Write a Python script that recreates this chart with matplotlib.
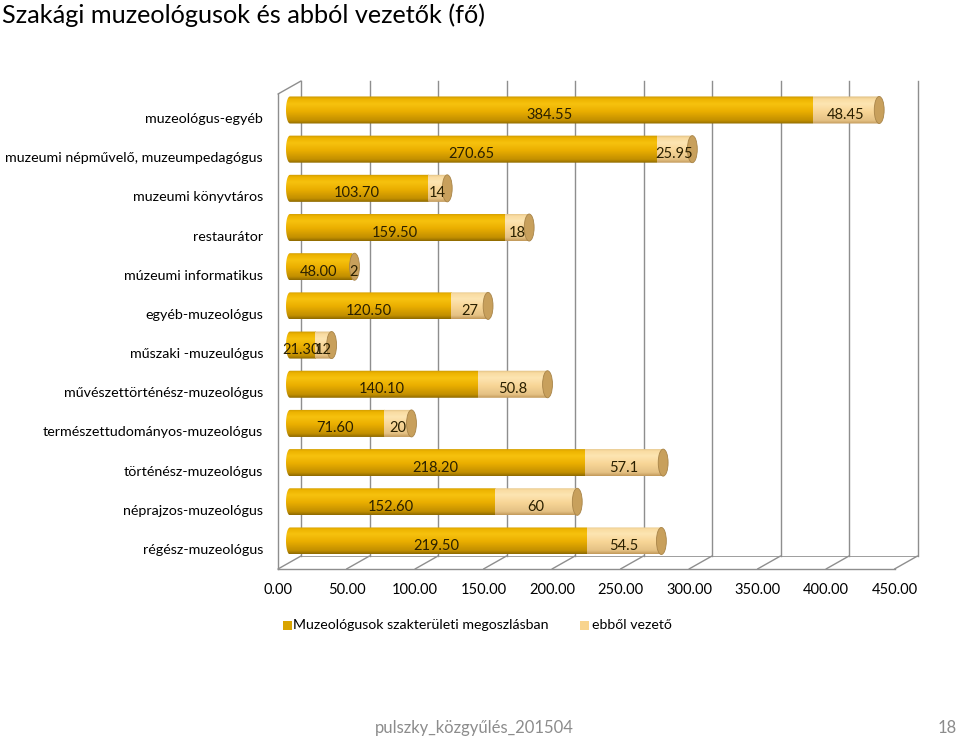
import matplotlib
matplotlib.use("Agg")
import matplotlib.pyplot as plt
from matplotlib.path import Path
from matplotlib.patches import PathPatch, Ellipse, ConnectionPatch, Rectangle
from matplotlib.colors import LinearSegmentedColormap
import matplotlib.transforms as mtransforms
import numpy as np

plt.rcParams['font.family'] = ['Lato', 'DejaVu Sans']

# data, top row first
categories = ["muzeológus-egyéb", "muzeumi népművelő, muzeumpedagógus",
              "muzeumi könyvtáros", "restaurátor", "múzeumi informatikus",
              "egyéb-muzeológus", "műszaki -muzeulógus",
              "művészettörténész-muzeológus", "természettudományos-muzeológus",
              "történész-muzeológus", "néprajzos-muzeológus", "régész-muzeológus"]
muzeologus = [384.55, 270.65, 103.70, 159.50, 48.00, 120.50, 21.30,
              140.10, 71.60, 218.20, 152.60, 219.50]
vezeto = [48.45, 25.95, 14, 18, 2, 27, 12, 50.8, 20, 57.1, 60, 54.5]
vezeto_labels = ["48.45", "25.95", "14", "18", "2", "27", "12",
                 "50.8", "20", "57.1", "60", "54.5"]
xticks = np.arange(0, 451, 50)
series_names = ["Muzeológusok szakterületi megoszlásban", "ebből vezető"]

title = "Szakági muzeológusok és abból vezetők (fő)"
footer = "pulszky_közgyűlés_201504"
page = "18"

gold_stops = [(0.0, "#8f6a00"), (0.12, "#c28f00"), (0.45, "#eaae00"),
              (0.72, "#f7c20e"), (0.9, "#edb300"), (1.0, "#c99700")]
light_stops = [(0.0, "#c29a5a"), (0.12, "#e4c184"), (0.45, "#f8d697"),
               (0.72, "#fde5b2"), (0.9, "#f9dca2"), (1.0, "#dfbd80")]
gold_cmap = LinearSegmentedColormap.from_list("gold", gold_stops)
light_cmap = LinearSegmentedColormap.from_list("light", light_stops)
cap_color = "#c8a05c"
grid_color = "#8e8e8e"

fig = plt.figure(figsize=(9.6, 7.4), dpi=100)
ax = fig.add_axes([286 / 960, 175 / 740, 616.5 / 960, 475 / 740])
ax.set_xlim(0, 450)
ax.set_ylim(-0.613, 11.51)
ax.axis("off")

n = len(categories)
ypos = np.arange(n)[::-1]
bar_h = 0.69
cap_a = 3.6  # half width of the end ellipse in data units


def shifted(dx, dy):
    # dx, dy in pixels (dy positive = down)
    return ax.transData + mtransforms.ScaledTranslation(dx / 100, -dy / 100, fig.dpi_scale_trans)


front = shifted(-8, 4)
back = shifted(15, -9)
y0, y1 = ax.get_ylim()

# back wall gridlines
for xv in xticks:
    ax.plot([xv, xv], [y0, y1], color=grid_color, lw=1.0, transform=back,
            zorder=1, clip_on=False)

# floor
ax.plot([0, 450], [y0, y0], color=grid_color, lw=1.0, transform=front, zorder=1, clip_on=False)
ax.plot([0, 450], [y0, y0], color=grid_color, lw=0.6, transform=back, zorder=1, clip_on=False)
for xv in xticks:
    cp = ConnectionPatch(xyA=(xv, y0), coordsA=front, xyB=(xv, y0), coordsB=back,
                         color=grid_color, lw=1.0, zorder=1)
    cp.set_clip_on(False)
    ax.add_artist(cp)

# left wall
ax.plot([0, 0], [y0, y1], color=grid_color, lw=1.0, transform=front, zorder=1, clip_on=False)
cp = ConnectionPatch(xyA=(0, y1), coordsA=front, xyB=(0, y1), coordsB=back,
                     color=grid_color, lw=1.0, zorder=1)
cp.set_clip_on(False)
ax.add_artist(cp)


def grad_img(cmap):
    t = np.linspace(0, 1, 64)
    rgb = cmap(t)[:, :3]
    return np.repeat(rgb[:, None, :], 2, axis=1)


gold_img = grad_img(gold_cmap)
light_img = grad_img(light_cmap)
lbl = shifted(0, 5)
round_a = cap_a * 0.8

for y, cat, m, v, vl in zip(ypos, categories, muzeologus, vezeto, vezeto_labels):
    total = m + v
    yb, yt = y - bar_h / 2, y + bar_h / 2
    # rounded left end, flat body up to the end cap
    th = np.linspace(np.pi / 2, 3 * np.pi / 2, 20)
    verts = [(round_a + round_a * np.cos(a), y + bar_h / 2 * np.sin(a)) for a in th]
    verts += [(total, yb), (total, yt), (round_a, yt)]
    codes = [Path.MOVETO] + [Path.LINETO] * (len(verts) - 1)
    clip = PathPatch(Path(verts, codes), facecolor="none", edgecolor="none",
                     transform=ax.transData)
    ax.add_patch(clip)
    im1 = ax.imshow(gold_img, extent=[0, m, yb, yt], origin="lower",
                    aspect="auto", interpolation="bilinear", zorder=3)
    im1.set_clip_path(clip)
    im2 = ax.imshow(light_img, extent=[m, total, yb, yt], origin="lower",
                    aspect="auto", interpolation="bilinear", zorder=3)
    im2.set_clip_path(clip)
    cap = Ellipse((total, y), 2 * cap_a, bar_h, facecolor=cap_color,
                  edgecolor="#a88448", lw=0.6, zorder=4)
    ax.add_patch(cap)
    ax.text(m / 2, y, f"{m:.2f}", ha="center", va="center", fontsize=10.5,
            color="#2a2000", transform=lbl, zorder=5)
    ax.text(m + v / 2, y, vl, ha="center", va="center", fontsize=10.5,
            color="#2a2000", transform=lbl, zorder=5)
    ax.text(0, y, cat, ha="right", va="center", fontsize=10.3, color="black",
            transform=shifted(-23, 9), clip_on=False)

ax.set_xlim(0, 450)
ax.set_ylim(y0, y1)

# x tick labels along the front of the floor
for xv in xticks:
    ax.text(xv, y0, f"{xv:.2f}", ha="center", va="center", fontsize=10.5,
            transform=shifted(-8, 25), clip_on=False)

# legend
fig.patches.append(Rectangle((283 / 960, 1 - 630 / 740), 9 / 960, 9 / 740,
                             transform=fig.transFigure, facecolor="#d9a400",
                             edgecolor="none"))
fig.text(293 / 960, 1 - 625 / 740, series_names[0], ha="left", va="center", fontsize=10.2)
fig.patches.append(Rectangle((580 / 960, 1 - 630 / 740), 9 / 960, 9 / 740,
                             transform=fig.transFigure, facecolor="#f8d48e",
                             edgecolor="none"))
fig.text(592 / 960, 1 - 625 / 740, series_names[1], ha="left", va="center", fontsize=10.2)

fig.text(2 / 960, 1 - 15 / 740, title, ha="left", va="center", fontsize=18.2)
fig.text(375 / 960, 1 - 728 / 740, footer, ha="left", va="center", fontsize=12,
         color="#8c8c8c")
fig.text(957 / 960, 1 - 728 / 740, page, ha="right", va="center", fontsize=12,
         color="#8c8c8c")

fig.savefig("out.png", dpi=100)
